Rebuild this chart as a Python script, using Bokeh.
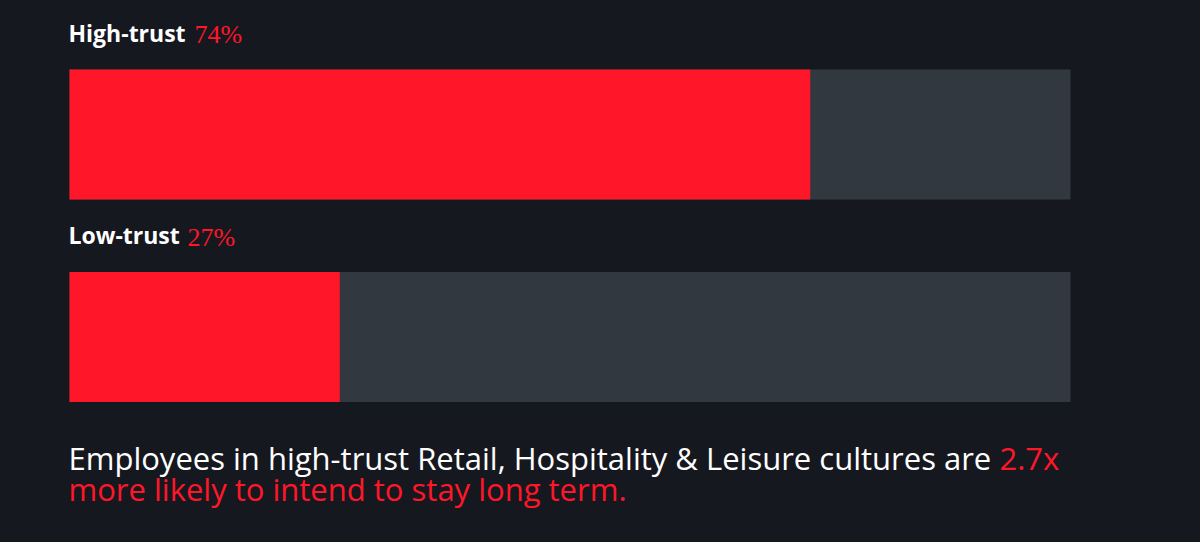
from bokeh.plotting import figure
from bokeh.models import Range1d, ColumnDataSource, Label
from bokeh.core.properties import value
from bokeh.embed import file_html
from bokeh.resources import INLINE

# ---- data ----
categories = ["High-trust", "Low-trust"]
percent_values = [74, 27]
track_max = [100, 100]
caption_white = "Employees in high-trust Retail, Hospitality & Leisure cultures are"
caption_red_1 = "2.7x"
caption_red_2 = "more likely to intend to stay long term."

BG = "#16181f"
RED = "#ff1628"
GREY = "#313840"

W, H = 1200, 542
px_per_unit = 10.01
x0_px = 69.0
row_px = 202.5
row0_px = 134.0
bar_h = 130 / row_px
TXT_SHIFT = 10  # svg text baseline correction

p = figure(width=W, height=H, output_backend="svg", toolbar_location=None,
           x_range=Range1d(-x0_px / px_per_unit, (W - x0_px) / px_per_unit),
           y_range=Range1d((H - row0_px) / row_px, -row0_px / row_px),
           min_border=0, min_border_left=0, min_border_right=0,
           min_border_top=0, min_border_bottom=0)
p.axis.visible = False
p.grid.visible = False
p.outline_line_color = None
p.background_fill_color = BG
p.border_fill_color = BG

idx = list(range(len(categories)))
src = ColumnDataSource(dict(
    y=idx, v=percent_values, track=track_max, cat=categories,
    pct=[f"{v}%" for v in percent_values],
    pct_off=[125, 118],
))

p.hbar(y="y", left=0, right="track", height=bar_h, source=src,
       fill_color=GREY, line_color=None)
p.hbar(y="y", left=0, right="v", height=bar_h, source=src,
       fill_color=RED, line_color=None)

label_y = [i - bar_h / 2 for i in idx]
src.data["ly"] = label_y
p.text(x=0, y="ly", text="cat", source=src, x_offset=-1, y_offset=-27 - TXT_SHIFT,
       text_color="white", text_font=value("Open Sans"), text_font_style="bold",
       text_font_size="23px", text_baseline="alphabetic", text_align="left")
p.text(x=0, y="ly", text="pct", source=src, x_offset="pct_off", y_offset=-25 - TXT_SHIFT,
       text_color=RED, text_font=value("Liberation Serif"),
       text_font_size="26px", text_baseline="alphabetic", text_align="left")

# caption
cap_kw = dict(x_units="screen", y_units="screen", text_font="Open Sans",
              text_font_size="31px", text_baseline="alphabetic", text_align="left")
p.add_layout(Label(x=68, y=H - 467 + TXT_SHIFT, text=caption_white, text_color="white", **cap_kw))
p.add_layout(Label(x=999, y=H - 467 + TXT_SHIFT, text=caption_red_1, text_color=RED, **cap_kw))
p.add_layout(Label(x=68, y=H - 498 + TXT_SHIFT, text=caption_red_2, text_color=RED, **cap_kw))

html = file_html(p, INLINE)
html = html.replace("</head>", f"<style>html,body{{background:{BG};}}</style></head>", 1)
open("out.html", "w").write(html)
